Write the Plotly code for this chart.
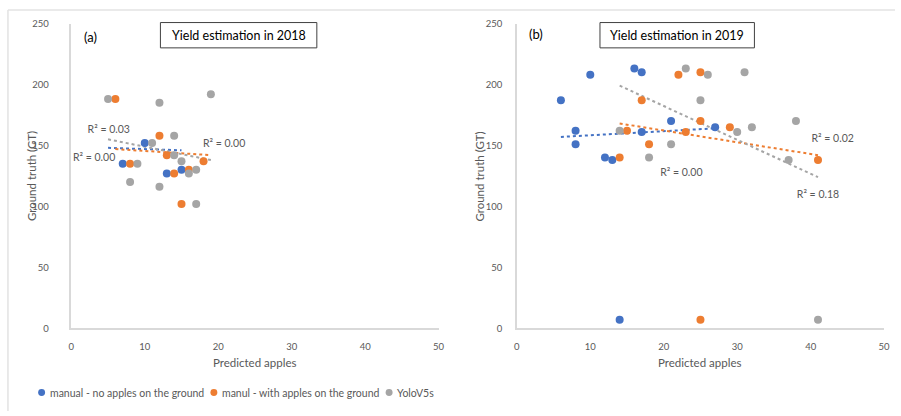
import plotly.graph_objects as go

# ---- data: panel (a) 2018 ----
a_manual_x = [10, 7, 13, 15]
a_manual_y = [152, 135, 127, 130]
a_manul_x = [6, 12, 13, 18, 8, 14, 16, 15]
a_manul_y = [188, 158, 142, 137, 135, 127, 130, 102]
a_yolo_x = [5, 12, 19, 14, 11, 14, 15, 9, 17, 16, 8, 12, 17]
a_yolo_y = [188, 185, 192, 158, 152, 142, 137, 135, 130, 127, 120, 116, 102]

# linear trendline end points (x0, x1) -> (y0, y1)
a_manual_trend_x = [5, 15]
a_manual_trend_y = [148, 146]
a_manul_trend_x = [6, 19]
a_manul_trend_y = [147, 142]
a_yolo_trend_x = [5, 19]
a_yolo_trend_y = [155, 138]

a_r2_text = ["R² = 0.03", "R² = 0.00", "R² = 0.00"]
a_r2_x = [5.1, 3.1, 20.8]
a_r2_y = [162, 139, 151]

# ---- data: panel (b) 2019 ----
b_manual_x = [6, 8, 8, 10, 12, 13, 16, 17, 17, 21, 27, 14]
b_manual_y = [187, 162, 151, 208, 140, 138, 213, 210, 161, 170, 165, 7]
b_manul_x = [14, 15, 17, 18, 22, 23, 25, 25, 29, 41, 25]
b_manul_y = [140, 162, 187, 151, 208, 161, 210, 170, 165, 138, 7]
b_yolo_x = [14, 18, 21, 23, 25, 26, 30, 31, 32, 37, 38, 41]
b_yolo_y = [162, 140, 151, 213, 187, 208, 161, 210, 165, 138, 170, 7]

b_manual_trend_x = [6, 27]
b_manual_trend_y = [157, 164]
b_manul_trend_x = [14, 41]
b_manul_trend_y = [168, 142]
b_yolo_trend_x = [14, 41]
b_yolo_trend_y = [199, 124]

b_r2_text = ["R² = 0.02", "R² = 0.00", "R² = 0.18"]
b_r2_x = [43.0, 22.4, 41.0]
b_r2_y = [155, 127, 109]

series_names = ["manual - no apples on the ground",
                "manul - with apples on the ground",
                "YoloV5s"]
series_colors = ["#4472C4", "#ED7D31", "#A5A5A5"]

panel_labels = ["(a)", "(b)"]
panel_titles = ["Yield estimation in 2018", "Yield estimation in 2019"]

x_ticks = [0, 10, 20, 30, 40, 50]
y_ticks = [0, 50, 100, 150, 200, 250]
x_title = "Predicted apples"
y_title = "Ground truth (GT)"

# ---- layout helpers ----
W, H = 901, 416
FONT = "Lato"
TXT = "#595959"
AXIS = "#D9D9D9"


def px(x):
    return x / W


def py(y):
    return 1 - y / H


fig = go.Figure()

panels = [
    dict(xa="x", ya="y",
         pts=[(a_manual_x, a_manual_y), (a_manul_x, a_manul_y), (a_yolo_x, a_yolo_y)],
         trends=[(a_manual_trend_x, a_manual_trend_y), (a_manul_trend_x, a_manul_trend_y),
                 (a_yolo_trend_x, a_yolo_trend_y)],
         r2=(a_r2_text, a_r2_x, a_r2_y)),
    dict(xa="x2", ya="y2",
         pts=[(b_manual_x, b_manual_y), (b_manul_x, b_manul_y), (b_yolo_x, b_yolo_y)],
         trends=[(b_manual_trend_x, b_manual_trend_y), (b_manul_trend_x, b_manul_trend_y),
                 (b_yolo_trend_x, b_yolo_trend_y)],
         r2=(b_r2_text, b_r2_x, b_r2_y)),
]

for p in panels:
    # trendlines first, markers on top
    for (tx, ty), col in zip(p["trends"], series_colors):
        fig.add_trace(go.Scatter(x=tx, y=ty, mode="lines", xaxis=p["xa"], yaxis=p["ya"],
                                 line=dict(color=col, width=2, dash="dot"),
                                 showlegend=False, hoverinfo="skip"))
    for (sx, sy), col, name in zip(p["pts"], series_colors, series_names):
        fig.add_trace(go.Scatter(x=sx, y=sy, mode="markers", xaxis=p["xa"], yaxis=p["ya"],
                                 name=name, showlegend=False,
                                 marker=dict(color=col, size=8, line=dict(width=0))))
    t, rx, ry = p["r2"]
    fig.add_trace(go.Scatter(x=rx, y=ry, text=t, mode="text", xaxis=p["xa"], yaxis=p["ya"],
                             textfont=dict(family=FONT, size=10.5, color=TXT),
                             showlegend=False, hoverinfo="skip"))

y_dom = [py(331), py(18)]
axis_common = dict(showgrid=False, zeroline=False, showline=True, linecolor=AXIS,
                   linewidth=1.5, ticks="", tickfont=dict(family=FONT, size=9.5, color=TXT))

fig.update_layout(
    width=W, height=H, margin=dict(l=0, r=0, t=0, b=0),
    paper_bgcolor="white", plot_bgcolor="white", showlegend=False,
    xaxis=dict(domain=[px(69), px(440)], range=[0, 50], tickvals=x_ticks,
               anchor="y", ticklabelstandoff=9, **axis_common),
    yaxis=dict(domain=y_dom, range=[0, 250], tickvals=y_ticks,
               anchor="x", ticklabelstandoff=19, **axis_common),
    xaxis2=dict(domain=[px(519), px(890)], range=[0, 50], tickvals=x_ticks,
                anchor="y2", ticklabelstandoff=9, **axis_common),
    yaxis2=dict(domain=y_dom, range=[0, 250], tickvals=y_ticks,
                anchor="x2", ticklabelstandoff=11, **axis_common),
)

shapes = []
annotations = []

# outer chart border
shapes.append(dict(type="line", xref="paper", yref="paper", x0=px(5), x1=1, y0=py(4), y1=py(4),
                   line=dict(color="#E3E3E3", width=1.5)))
shapes.append(dict(type="line", xref="paper", yref="paper", x0=px(5), x1=px(5), y0=0, y1=py(4),
                   line=dict(color="#E3E3E3", width=1.5)))

# panel titles in boxes and panel letters
for (x0, x1), title, lab, lx, ly in zip([(159, 317), (603, 759)], panel_titles, panel_labels,
                                        [88, 538], [32, 29]):
    shapes.append(dict(type="rect", xref="paper", yref="paper", x0=px(x0), x1=px(x1),
                       y0=py(43), y1=py(17), line=dict(color="#404040", width=1),
                       fillcolor="white", layer="below"))
    annotations.append(dict(xref="paper", yref="paper", x=px((x0 + x1) / 2), y=py(30),
                            text=title, showarrow=False, xanchor="center", yanchor="middle",
                            font=dict(family=FONT, size=12.5, color="#000000")))
    annotations.append(dict(xref="paper", yref="paper", x=px(lx), y=py(ly), text=lab,
                            showarrow=False, xanchor="center", yanchor="middle",
                            font=dict(family=FONT, size=13, color="#000000")))

# axis titles
for cx, yx in [(254, 29), (704, 481)]:
    annotations.append(dict(xref="paper", yref="paper", x=px(cx), y=py(366), text=x_title,
                            showarrow=False, xanchor="center", yanchor="middle",
                            font=dict(family=FONT, size=11.5, color=TXT)))
    annotations.append(dict(xref="paper", yref="paper", x=px(yx), y=py(175), text=y_title,
                            textangle=-90, showarrow=False, xanchor="center", yanchor="middle",
                            font=dict(family=FONT, size=11.5, color=TXT)))

# legend row under panel (a)
for name, col, dx, tx in zip(series_names, series_colors, [39, 213, 390], [45, 219, 396]):
    shapes.append(dict(type="circle", xref="paper", yref="paper",
                       x0=px(dx - 3.5), x1=px(dx + 3.5), y0=py(397 + 3.5), y1=py(397 - 3.5),
                       fillcolor=col, line=dict(width=0)))
    annotations.append(dict(xref="paper", yref="paper", x=px(tx), y=py(397), text=name,
                            showarrow=False, xanchor="left", yanchor="middle",
                            font=dict(family=FONT, size=10.5, color=TXT)))

fig.update_layout(shapes=shapes, annotations=annotations)

fig.write_html("out.html")
